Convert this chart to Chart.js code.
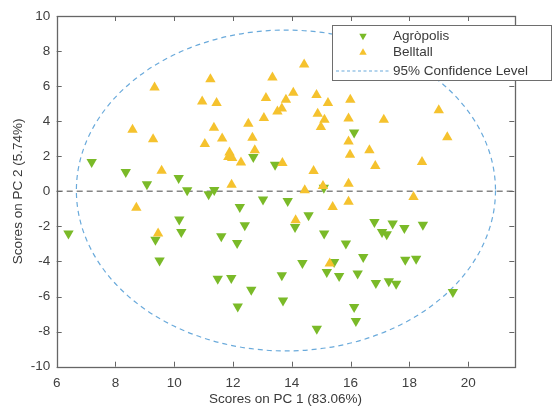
<!DOCTYPE html>
<html>
<head>
<meta charset="utf-8">
<script src="https://cdn.jsdelivr.net/npm/chart.js@4/dist/chart.umd.min.js"></script>
<style>
  html, body { margin: 0; padding: 0; background: #fff; }
</style>
</head>
<body>
<canvas id="chart" width="553" height="407"></canvas>
<script>
// scores
const agropolisX = [6.40, 7.19, 8.35, 9.07, 10.15, 10.44, 11.17, 11.36, 9.36, 9.50,
  10.17, 10.24, 12.23, 13.02, 13.86, 14.57, 12.40, 14.11, 15.10, 15.84,
  11.60, 12.14, 14.36, 15.44, 15.19, 15.61, 16.24, 16.43, 13.66, 11.48,
  11.94, 12.62, 13.70, 12.16, 16.12, 16.18, 14.85, 16.81, 17.43, 17.83,
  18.46, 17.07, 17.23, 17.86, 18.23, 16.86, 17.30, 17.55, 19.48, 16.12,
  12.69, 13.43, 15.09];
const agropolisY = [-2.41, 1.68, 1.11, 0.40, 0.76, 0.06, -0.17, 0.08, -2.76, -3.94,
  -1.61, -2.32, -0.89, -0.47, -0.55, -1.37, -1.94, -2.03, -2.41, -2.98,
  -2.56, -2.95, -4.09, -4.03, -4.60, -4.83, -4.69, -3.74, -4.79, -4.98,
  -4.94, -5.61, -6.22, -6.56, -6.60, -7.39, -7.83, -1.75, -1.84, -2.09,
  -1.90, -2.32, -2.45, -3.90, -3.84, -5.23, -5.13, -5.27, -5.74, 3.35,
  1.96, 1.52, 0.21];

const belltallX = [14.42, 11.23, 13.34, 9.33, 14.05, 14.84, 15.23, 15.99, 11.44, 13.12,
  13.80, 13.66, 13.51, 13.05, 14.88, 15.11, 14.99, 15.93, 12.52, 11.35,
  11.63, 12.66, 11.04, 12.74, 11.88, 11.84, 11.97, 12.27, 13.68, 15.93,
  15.98, 14.74, 11.95, 14.44, 15.06, 15.93, 19.00, 17.13, 19.29, 16.64,
  16.84, 18.43, 18.14, 8.58, 9.28, 9.57, 8.71, 9.45, 15.39, 15.93,
  14.13, 15.29, 10.95];
const belltallY = [7.24, 6.39, 6.49, 5.92, 5.63, 5.50, 5.04, 5.23, 5.04, 5.33,
  5.23, 4.72, 4.56, 4.19, 4.43, 4.09, 3.67, 4.15, 3.86, 3.62,
  3.01, 3.05, 2.70, 2.34, 2.21, 1.96, 1.90, 1.64, 1.62, 2.85,
  2.09, 1.16, 0.38, 0.06, 0.31, 0.44, 4.62, 4.09, 3.08, 2.34,
  1.45, 1.68, -0.32, 3.52, 2.97, 1.18, -0.93, -2.41, -0.89, -0.60,
  -1.65, -4.12, 5.13];

// 95% confidence ellipse: centre and semi-axes
const ellipseCenter = [13.8, 0.05];
const ellipseRadii = [7.13, 9.15];

const xLabel = "Scores on PC 1 (83.06%)";
const yLabel = "Scores on PC 2 (5.74%)";
const confLabel = "95% Confidence Level";

const green = "#7aba28";
const yellow = "#f5c22e";
const ellipseColor = "#6aaadb";
const axisColor = "#666666";
const textColor = "#3a3a3a";
const fontFamily = "'Liberation Sans', Arial, sans-serif";

function toPoints(xs, ys) {
  return xs.map((v, i) => ({ x: v, y: ys[i] }));
}

const pcaPlugin = {
  id: "pca",
  beforeDatasetsDraw(chart) {
    const { ctx, chartArea: a, scales: { x, y } } = chart;
    ctx.save();
    // y = 0 reference line
    const y0 = y.getPixelForValue(0);
    ctx.setLineDash([6, 4]);
    ctx.strokeStyle = "#858585";
    ctx.lineWidth = 1.5;
    ctx.beginPath();
    ctx.moveTo(a.left, y0);
    ctx.lineTo(a.right, y0);
    ctx.stroke();
    // confidence ellipse
    const cx = x.getPixelForValue(ellipseCenter[0]);
    const cy = y.getPixelForValue(ellipseCenter[1]);
    const rx = x.getPixelForValue(ellipseCenter[0] + ellipseRadii[0]) - cx;
    const ry = cy - y.getPixelForValue(ellipseCenter[1] + ellipseRadii[1]);
    ctx.setLineDash([5, 4]);
    ctx.strokeStyle = ellipseColor;
    ctx.lineWidth = 1.2;
    ctx.beginPath();
    ctx.ellipse(cx, cy, rx, ry, 0, 0, Math.PI * 2);
    ctx.stroke();
    ctx.restore();
  },
  afterDraw(chart) {
    const { ctx, chartArea: a, scales: { x, y } } = chart;
    ctx.save();
    // box and inward ticks, matlab style
    ctx.strokeStyle = axisColor;
    ctx.lineWidth = 1.3;
    ctx.strokeRect(Math.round(a.left) + 0.5, Math.round(a.top) + 0.5,
      Math.round(a.right - a.left), Math.round(a.bottom - a.top));
    ctx.lineWidth = 1;
    ctx.beginPath();
    x.ticks.forEach(t => {
      const px = Math.round(x.getPixelForValue(t.value)) + 0.5;
      ctx.moveTo(px, a.bottom); ctx.lineTo(px, a.bottom - 5);
      ctx.moveTo(px, a.top); ctx.lineTo(px, a.top + 5);
    });
    y.ticks.forEach(t => {
      const py = Math.round(y.getPixelForValue(t.value)) + 0.5;
      ctx.moveTo(a.left, py); ctx.lineTo(a.left + 5, py);
      ctx.moveTo(a.right, py); ctx.lineTo(a.right - 5, py);
    });
    ctx.stroke();

    // legend box
    const L = { left: 332, top: 25, right: 551, bottom: 80 };
    ctx.fillStyle = "#fff";
    ctx.fillRect(L.left, L.top, L.right - L.left, L.bottom - L.top);
    ctx.strokeStyle = "#6e6e6e";
    ctx.strokeRect(L.left + 0.5, L.top + 0.5, L.right - L.left, L.bottom - L.top);

    const rows = [36, 52.5, 71];
    const markX = 363;
    const textX = 393;
    const ds = chart.data.datasets;
    const entries = [ds[0], ds[1]];
    entries.forEach((d, i) => {
      ctx.fillStyle = d.backgroundColor;
      Chart.helpers.drawPoint(ctx, {
        pointStyle: "triangle", rotation: d.rotation, radius: 4.3, borderWidth: 0
      }, markX, rows[i]);
    });
    ctx.setLineDash([3, 2.5]);
    ctx.strokeStyle = ellipseColor;
    ctx.lineWidth = 1.1;
    ctx.beginPath();
    ctx.moveTo(336, rows[2]);
    ctx.lineTo(391, rows[2]);
    ctx.stroke();
    ctx.setLineDash([]);

    ctx.fillStyle = textColor;
    ctx.font = "13.5px " + fontFamily;
    ctx.textBaseline = "middle";
    ctx.textAlign = "left";
    ctx.fillText(entries[0].label, textX, rows[0]);
    ctx.fillText(entries[1].label, textX, rows[1]);
    ctx.fillText(confLabel, textX, rows[2]);
    ctx.restore();
  }
};

new Chart(document.getElementById("chart").getContext("2d"), {
  type: "scatter",
  data: {
    datasets: [
      {
        label: "Agròpolis",
        data: toPoints(agropolisX, agropolisY),
        backgroundColor: green,
        pointStyle: "triangle",
        rotation: 180,
        pointRadius: 6,
        borderWidth: 0,
        order: 1
      },
      {
        label: "Belltall",
        data: toPoints(belltallX, belltallY),
        backgroundColor: yellow,
        pointStyle: "triangle",
        rotation: 0,
        pointRadius: 6,
        borderWidth: 0,
        order: 0
      }
    ]
  },
  options: {
    responsive: false,
    animation: false,
    devicePixelRatio: 1,
    events: [],
    layout: { padding: { top: 16, right: 38.7, left: 0, bottom: 0 } },
    plugins: {
      legend: { display: false },
      tooltip: { enabled: false }
    },
    scales: {
      x: {
        type: "linear",
        min: 6,
        max: 21.57,
        grid: { display: false, drawTicks: false },
        border: { display: false },
        ticks: {
          stepSize: 2,
          includeBounds: false,
          padding: 8,
          color: "#404040",
          font: { size: 13.5, family: fontFamily }
        },
        title: {
          display: true,
          text: xLabel,
          color: textColor,
          padding: { top: 0, bottom: 0 },
          font: { size: 13.5, family: fontFamily }
        },
        afterFit(scale) { scale.height = 40.3; }
      },
      y: {
        type: "linear",
        min: -10,
        max: 10,
        grid: { display: false, drawTicks: false },
        border: { display: false },
        ticks: {
          stepSize: 2,
          padding: 6.5,
          color: "#404040",
          font: { size: 13.5, family: fontFamily }
        },
        title: {
          display: true,
          text: yLabel,
          color: textColor,
          padding: { top: 10, bottom: 0 },
          font: { size: 13.5, family: fontFamily }
        },
        afterFit(scale) { scale.width = 56.7; }
      }
    }
  },
  plugins: [pcaPlugin]
});
</script>
</body>
</html>
